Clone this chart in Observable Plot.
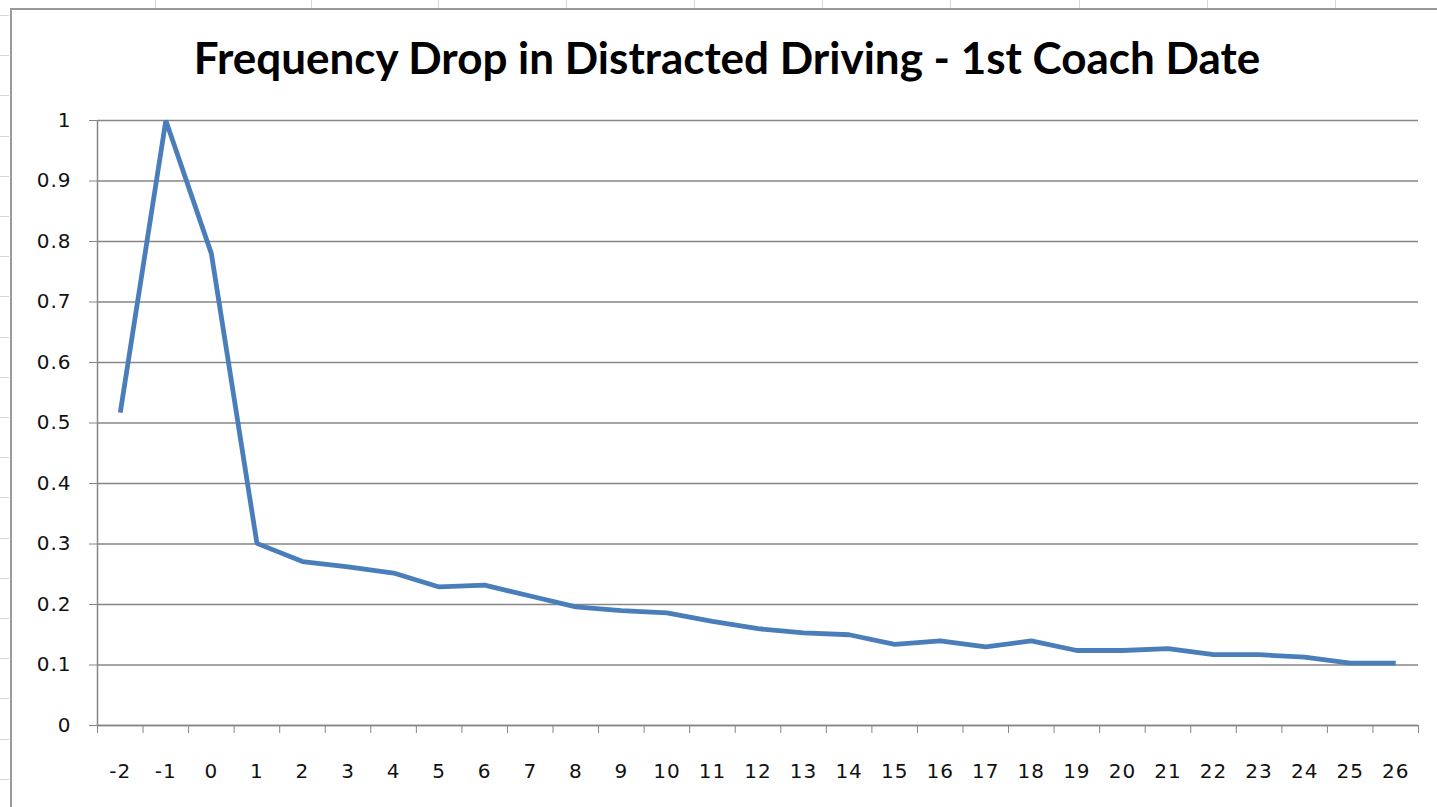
<!DOCTYPE html>
<html>
<head>
<meta charset="utf-8">
<script src="https://cdn.jsdelivr.net/npm/d3@7"></script>
<script src="https://cdn.jsdelivr.net/npm/@observablehq/plot@0.6"></script>
<style>
  html, body { margin: 0; padding: 0; background: #ffffff; overflow: hidden; }
  #page { position: relative; width: 1437px; height: 807px; background: #ffffff; }
  #frame { position: absolute; left: 10px; top: 8px; width: 1440px; height: 820px; border-left: 2px solid #9a9a9a; border-top: 2px solid #9a9a9a; box-sizing: border-box; }
  #title { position: absolute; left: 0; top: 31px; width: 1454px; text-align: center; font-family: Lato, "Open Sans", sans-serif; font-weight: 700; font-size: 44px; color: #000; letter-spacing: 0px; }
  #chart { position: absolute; left: 0; top: 0; }
  #chart svg text { letter-spacing: 1px; }
  .cellv { position: absolute; top: 0; width: 1px; height: 8px; background: #d4d8de; }
  .cellh { position: absolute; left: 0; width: 9px; height: 1px; background: #d4d8de; }
</style>
</head>
<body>
<div id="page">
  <div id="deco"></div>
  <div id="frame"></div>
  <div id="title">Frequency Drop in Distracted Driving - 1st Coach Date</div>
  <div id="chart"></div>
</div>
<script>
// ---- data ----
const categories = [-2, -1, 0, 1, 2, 3, 4, 5, 6, 7, 8, 9, 10, 11, 12, 13, 14, 15, 16, 17, 18, 19, 20, 21, 22, 23, 24, 25, 26];
const frequency = [0.517, 1.0, 0.78, 0.301, 0.271, 0.262, 0.252, 0.229, 0.232, 0.214, 0.196, 0.190, 0.186, 0.172, 0.160, 0.153, 0.150, 0.134, 0.140, 0.130, 0.140, 0.124, 0.124, 0.127, 0.117, 0.117, 0.113, 0.103, 0.103];
const yTicks = [0, 0.1, 0.2, 0.3, 0.4, 0.5, 0.6, 0.7, 0.8, 0.9, 1];

const data = categories.map((c, i) => ({period: c, value: frequency[i]}));
const boundaries = categories.map(c => c - 0.5).concat([categories[categories.length - 1] + 0.5]);

// spreadsheet cell lines around the chart (decoration)
const deco = document.getElementById("deco");
[155, 311, 438, 566, 694, 822, 950, 1079, 1207, 1335].forEach(x => {
  const d = document.createElement("div"); d.className = "cellv"; d.style.left = x + "px"; deco.appendChild(d);
});
for (let y = 15; y < 807; y += 40.2) {
  const d = document.createElement("div"); d.className = "cellh"; d.style.top = Math.round(y) + "px"; deco.appendChild(d);
}

const grey = "#868686";
const labelFont = 20;
const chart = Plot.plot({
  width: 1437,
  height: 807,
  marginLeft: 97,
  marginRight: 19,
  marginTop: 120,
  marginBottom: 82,
  style: {background: "transparent", fontFamily: "'DejaVu Sans', Verdana, sans-serif", fontSize: "20px", color: "#111"},
  x: {type: "linear", domain: [boundaries[0], boundaries[boundaries.length - 1]]},
  y: {type: "linear", domain: [0, 1]},
  marks: [
    Plot.gridY(yTicks, {stroke: grey, strokeOpacity: 1, strokeWidth: 1.5}),
    Plot.ruleX([boundaries[0]], {stroke: grey, strokeWidth: 1.5}),
    Plot.ruleY([0], {stroke: grey, strokeWidth: 1.5}),
    Plot.axisY(yTicks, {tickSize: 8, tickPadding: 18, stroke: grey, fontSize: labelFont, tickFormat: d => String(+d.toFixed(1)), label: null, fill: "#111"}),
    Plot.axisX(boundaries, {tickSize: 8, stroke: grey, text: null, label: null}),
    Plot.axisX(categories, {tickSize: 0, tickPadding: 38, fontSize: labelFont, tickFormat: d => String(d), label: null, fill: "#111"}),
    Plot.lineY(data, {x: "period", y: "value", stroke: "#4a7ebb", strokeWidth: 4.8, strokeLinejoin: "miter", strokeLinecap: "butt"})
  ]
});
document.getElementById("chart").appendChild(chart);
</script>
</body>
</html>
